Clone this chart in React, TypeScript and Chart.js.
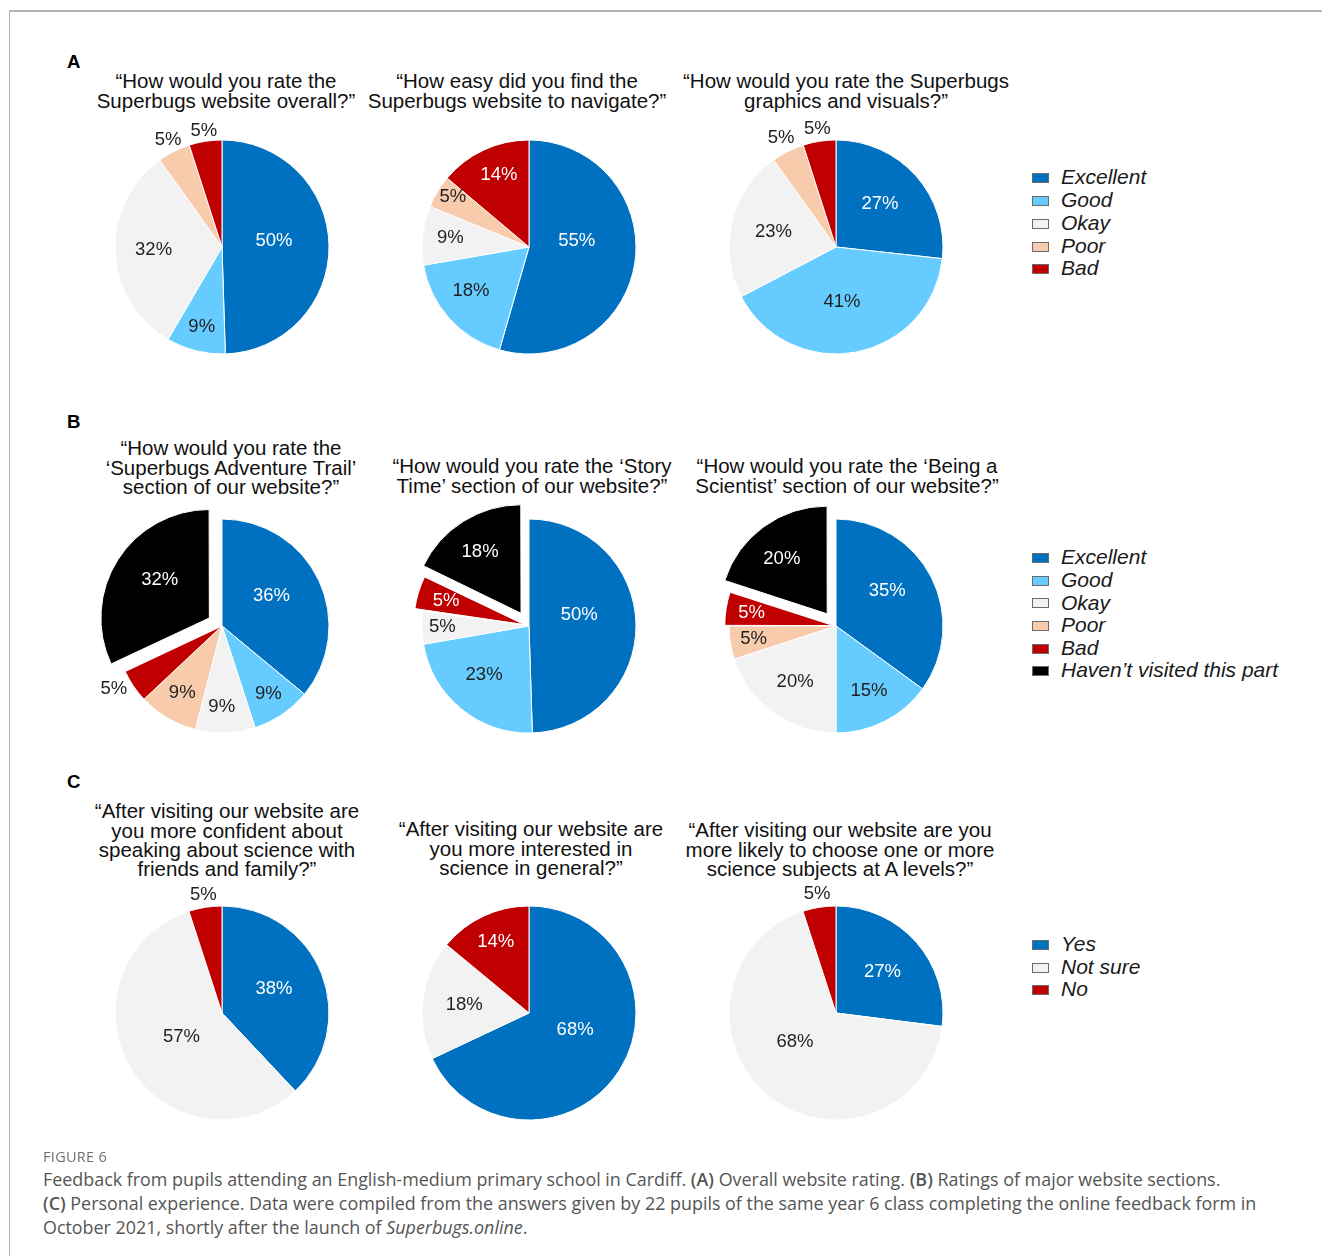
import React, { useEffect, useRef } from "react";
import { Chart, registerables } from "chart.js";

Chart.register(...registerables);

// ---------- data ----------
const RATING_LABELS = ["Excellent", "Good", "Okay", "Poor", "Bad"];
const SECTION_LABELS = ["Excellent", "Good", "Okay", "Poor", "Bad", "Haven’t visited this part"];
const EXPERIENCE_LABELS = ["Yes", "Not sure", "No"];

const OVERALL_RATING = [50, 9, 32, 5, 5];
const NAVIGATION_RATING = [55, 18, 9, 5, 14];
const GRAPHICS_RATING = [27, 41, 23, 5, 5];

const ADVENTURE_TRAIL_RATING = [36, 9, 9, 9, 5, 32];
const STORY_TIME_RATING = [50, 23, 5, 0, 5, 18];
const BEING_SCIENTIST_RATING = [35, 15, 20, 5, 5, 20];

const MORE_CONFIDENT = [38, 57, 5];
const MORE_INTERESTED = [68, 18, 14];
const A_LEVEL_SCIENCE = [27, 68, 5];

const TITLE_A1 = ["“How would you rate the", "Superbugs website overall?”"];
const TITLE_A2 = ["“How easy did you find the", "Superbugs website to navigate?”"];
const TITLE_A3 = ["“How would you rate the Superbugs", "graphics and visuals?”"];
const TITLE_B1 = ["“How would you rate the", "‘Superbugs Adventure Trail’", "section of our website?”"];
const TITLE_B2 = ["“How would you rate the ‘Story", "Time’ section of our website?”"];
const TITLE_B3 = ["“How would you rate the ‘Being a", "Scientist’ section of our website?”"];
const TITLE_C1 = ["“After visiting our website are", "you more confident about", "speaking about science with", "friends and family?”"];
const TITLE_C2 = ["“After visiting our website are", "you more interested in", "science in general?”"];
const TITLE_C3 = ["“After visiting our website are you", "more likely to choose one or more", "science subjects at A levels?”"];

// ---------- styles ----------
const RATING_COLORS = ["#0070C0", "#66CCFF", "#F2F2F2", "#F8CBAD", "#C00000", "#000000"];
const RATING_TEXT = ["#ffffff", "#1f1f1f", "#1f1f1f", "#1f1f1f", "#ffffff", "#ffffff"];
const EXPERIENCE_COLORS = ["#0070C0", "#F2F2F2", "#C00000"];
const EXPERIENCE_TEXT = ["#ffffff", "#1f1f1f", "#ffffff"];

const FONT = "'Liberation Sans', Arial, Helvetica, sans-serif";
const CAPTION_FONT = "'Open Sans', Lato, sans-serif";
const R = 107;
const CANVAS = 300;

// label placement: [fraction of radius (> 1 = outside), angular nudge in degrees from slice middle]
const PLACE_A1 = [[0.49, -6], [0.77, 0], [0.64, 0], [1.12, 0], [1.1, 0]];
const PLACE_A2 = [[0.45, -15], [0.68, 4.7], [0.74, 0], [0.85, 2], [0.73, 2.4]];
const PLACE_A3 = [[0.575, -2.5], [0.52, 4.5], [0.6, 0], [1.14, 0], [1.12, 0]];
const PLACE_B1 = [[0.54, -6], [0.77, 0], [0.76, 2], [0.73, 0], [1.17, 4], [0.57, 5]];
const PLACE_B2 = [[0.48, -11.5], [0.62, 3.4], [0.81, 0], [0.8, 0], [0.73, 0], [0.675, -1.7]];
const PLACE_B3 = [[0.58, -7.4], [0.68, 0], [0.65, 0], [0.78, 0], [0.76, 0], [0.66, -3.5]];
const PLACE_C1 = [[0.535, -3], [0.44, 0], [1.12, 0]];
const PLACE_C2 = [[0.46, -12], [0.61, 0], [0.73, 0]];
const PLACE_C3 = [[0.58, 0], [0.47, 15], [1.13, 0]];

const OFFSET_B1 = [0, 0, 0, 0, 0, 60];
const OFFSET_B2 = [0, 0, 0, 0, 20, 60];
const OFFSET_B3 = [0, 0, 0, 0, 10, 60];

const pctLabels = {
  id: "pctLabels",
  afterDatasetsDraw(chart: any, _args: any, opts: any) {
    const ctx = chart.ctx;
    const meta = chart.getDatasetMeta(0);
    const data = chart.data.datasets[0].data as number[];
    ctx.save();
    ctx.font = `18.5px ${FONT}`;
    ctx.textAlign = "center";
    ctx.textBaseline = "middle";
    meta.data.forEach((arc: any, i: number) => {
      const v = data[i];
      if (!v) return;
      const p = arc.getProps(["x", "y", "startAngle", "endAngle", "outerRadius", "circumference"], true);
      const off = (arc.options.offset || 0) / 4;
      const fix = 1 - Math.sin(Math.min(Math.PI, p.circumference || 0));
      const shift = off + off * fix;
      const mid = (p.startAngle + p.endAngle) / 2;
      const [f, nudge] = opts.place[i];
      const ang = mid + (nudge * Math.PI) / 180;
      const ox = p.x + Math.cos(mid) * shift;
      const oy = p.y + Math.sin(mid) * shift;
      const rr = p.outerRadius * f;
      const lx = ox + Math.cos(ang) * rr;
      const ly = oy + Math.sin(ang) * rr;
      ctx.fillStyle = f > 1 ? "#1f1f1f" : opts.textColors[i];
      ctx.fillText(`${v}%`, lx, ly);
    });
    ctx.restore();
  },
};

type PieProps = {
  cx: number;
  cy: number;
  labels: string[];
  values: number[];
  colors: string[];
  textColors: string[];
  place: number[][];
  offsets?: number[];
};

function Pie({ cx, cy, labels, values, colors, textColors, place, offsets }: PieProps) {
  const ref = useRef<HTMLCanvasElement | null>(null);
  useEffect(() => {
    if (!ref.current) return;
    const chart = new Chart(ref.current, {
      type: "pie",
      data: {
        labels,
        datasets: [
          {
            data: values,
            backgroundColor: colors.slice(0, values.length),
            borderColor: "#ffffff",
            borderWidth: 1,
            hoverBorderWidth: 1,
            hoverOffset: 0,
            offset: offsets || values.map(() => 0),
          } as any,
        ],
      },
      options: {
        responsive: false,
        animation: false,
        events: [],
        radius: R,
        layout: { padding: 0 },
        plugins: {
          legend: { display: false },
          tooltip: { enabled: false },
          title: { display: false },
          pctLabels: { place, textColors },
        } as any,
      } as any,
      plugins: [pctLabels],
    });
    return () => chart.destroy();
  }, []);
  return (
    <canvas
      ref={ref}
      width={CANVAS}
      height={CANVAS}
      style={{ position: "absolute", left: cx - CANVAS / 2, top: cy - CANVAS / 2, width: CANVAS, height: CANVAS }}
    />
  );
}

function Title({ lines, cx, baseline }: { lines: string[]; cx: number; baseline: number }) {
  return (
    <div
      style={{
        position: "absolute",
        left: cx - 200,
        width: 400,
        top: baseline - 16.7,
        textAlign: "center",
        fontFamily: FONT,
        fontSize: 20.5,
        lineHeight: "19.2px",
        color: "#111",
        whiteSpace: "nowrap",
      }}
    >
      {lines.map((l, i) => (
        <div key={i}>{l}</div>
      ))}
    </div>
  );
}

function Legend({ labels, colors, baseline, spacing }: { labels: string[]; colors: string[]; baseline: number; spacing: number }) {
  return (
    <div style={{ position: "absolute", left: 1032, top: baseline - 18.6 }}>
      {labels.map((l, i) => (
        <div
          key={i}
          style={{ height: spacing, display: "flex", alignItems: "center", fontFamily: FONT, fontSize: 21, fontStyle: "italic", color: "#1a1a1a", lineHeight: `${spacing}px`, whiteSpace: "nowrap" }}
        >
          <span style={{ display: "inline-block", width: 15, height: 8, background: colors[i], border: "1px solid #6b6b6b", marginRight: 12, marginTop: 1 }} />
          <span>{l}</span>
        </div>
      ))}
    </div>
  );
}

function PanelLetter({ letter, baseline }: { letter: string; baseline: number }) {
  return (
    <div style={{ position: "absolute", left: 67, top: baseline - 16, fontFamily: FONT, fontWeight: "bold", fontSize: 18.6, lineHeight: "20px", color: "#000" }}>
      {letter}
    </div>
  );
}

const COLS = [222, 529, 836];
const ROWS = [247, 626, 1013];

export default function App() {
  return (
    <div style={{ position: "absolute", left: 0, top: 0, width: 1322, height: 1256, overflow: "hidden", background: "#fff" }}>
      <div style={{ position: "absolute", left: 9, top: 10, width: 1313, height: 1246, borderTop: "2px solid #b5b5b5", borderLeft: "1.5px solid #b5b5b5", boxSizing: "border-box" }} />

      <PanelLetter letter="A" baseline={68} />
      <PanelLetter letter="B" baseline={428} />
      <PanelLetter letter="C" baseline={788} />

      <Title lines={TITLE_A1} cx={226} baseline={88} />
      <Title lines={TITLE_A2} cx={517} baseline={88} />
      <Title lines={TITLE_A3} cx={846} baseline={88} />
      <Title lines={TITLE_B1} cx={231} baseline={455} />
      <Title lines={TITLE_B2} cx={532} baseline={473} />
      <Title lines={TITLE_B3} cx={847} baseline={473} />
      <Title lines={TITLE_C1} cx={227} baseline={818} />
      <Title lines={TITLE_C2} cx={531} baseline={836} />
      <Title lines={TITLE_C3} cx={840} baseline={837} />

      <Pie cx={COLS[0]} cy={ROWS[0]} labels={RATING_LABELS} values={OVERALL_RATING} colors={RATING_COLORS} textColors={RATING_TEXT} place={PLACE_A1} />
      <Pie cx={COLS[1]} cy={ROWS[0]} labels={RATING_LABELS} values={NAVIGATION_RATING} colors={RATING_COLORS} textColors={RATING_TEXT} place={PLACE_A2} />
      <Pie cx={COLS[2]} cy={ROWS[0]} labels={RATING_LABELS} values={GRAPHICS_RATING} colors={RATING_COLORS} textColors={RATING_TEXT} place={PLACE_A3} />

      <Pie cx={COLS[0]} cy={ROWS[1]} labels={SECTION_LABELS} values={ADVENTURE_TRAIL_RATING} colors={RATING_COLORS} textColors={RATING_TEXT} place={PLACE_B1} offsets={OFFSET_B1} />
      <Pie cx={COLS[1]} cy={ROWS[1]} labels={SECTION_LABELS} values={STORY_TIME_RATING} colors={RATING_COLORS} textColors={RATING_TEXT} place={PLACE_B2} offsets={OFFSET_B2} />
      <Pie cx={COLS[2]} cy={ROWS[1]} labels={SECTION_LABELS} values={BEING_SCIENTIST_RATING} colors={RATING_COLORS} textColors={RATING_TEXT} place={PLACE_B3} offsets={OFFSET_B3} />

      <Pie cx={COLS[0]} cy={ROWS[2]} labels={EXPERIENCE_LABELS} values={MORE_CONFIDENT} colors={EXPERIENCE_COLORS} textColors={EXPERIENCE_TEXT} place={PLACE_C1} />
      <Pie cx={COLS[1]} cy={ROWS[2]} labels={EXPERIENCE_LABELS} values={MORE_INTERESTED} colors={EXPERIENCE_COLORS} textColors={EXPERIENCE_TEXT} place={PLACE_C2} />
      <Pie cx={COLS[2]} cy={ROWS[2]} labels={EXPERIENCE_LABELS} values={A_LEVEL_SCIENCE} colors={EXPERIENCE_COLORS} textColors={EXPERIENCE_TEXT} place={PLACE_C3} />

      <Legend labels={RATING_LABELS} colors={RATING_COLORS} baseline={185} spacing={22.75} />
      <Legend labels={SECTION_LABELS} colors={RATING_COLORS} baseline={565} spacing={22.6} />
      <Legend labels={EXPERIENCE_LABELS} colors={EXPERIENCE_COLORS} baseline={952} spacing={22.5} />

      <div style={{ position: "absolute", left: 43, top: 1147, fontFamily: CAPTION_FONT, fontSize: 14.5, letterSpacing: 0.3, color: "#707070", lineHeight: "20px" }}>
        FIGURE 6
      </div>
      <div style={{ position: "absolute", left: 43, top: 1167, width: 1275, fontFamily: CAPTION_FONT, fontSize: 17.9, color: "#555", lineHeight: "24px", whiteSpace: "nowrap" }}>
        <div>
          Feedback from pupils attending an English-medium primary school in Cardiff. <span style={{ fontWeight: 600 }}>(A)</span> Overall website rating. <span style={{ fontWeight: 600 }}>(B)</span> Ratings of major website sections.
        </div>
        <div>
          <span style={{ fontWeight: 600 }}>(C)</span> Personal experience. Data were compiled from the answers given by 22 pupils of the same year 6 class completing the online feedback form in
        </div>
        <div>
          October 2021, shortly after the launch of <i>Superbugs.online</i>.
        </div>
      </div>
    </div>
  );
}
